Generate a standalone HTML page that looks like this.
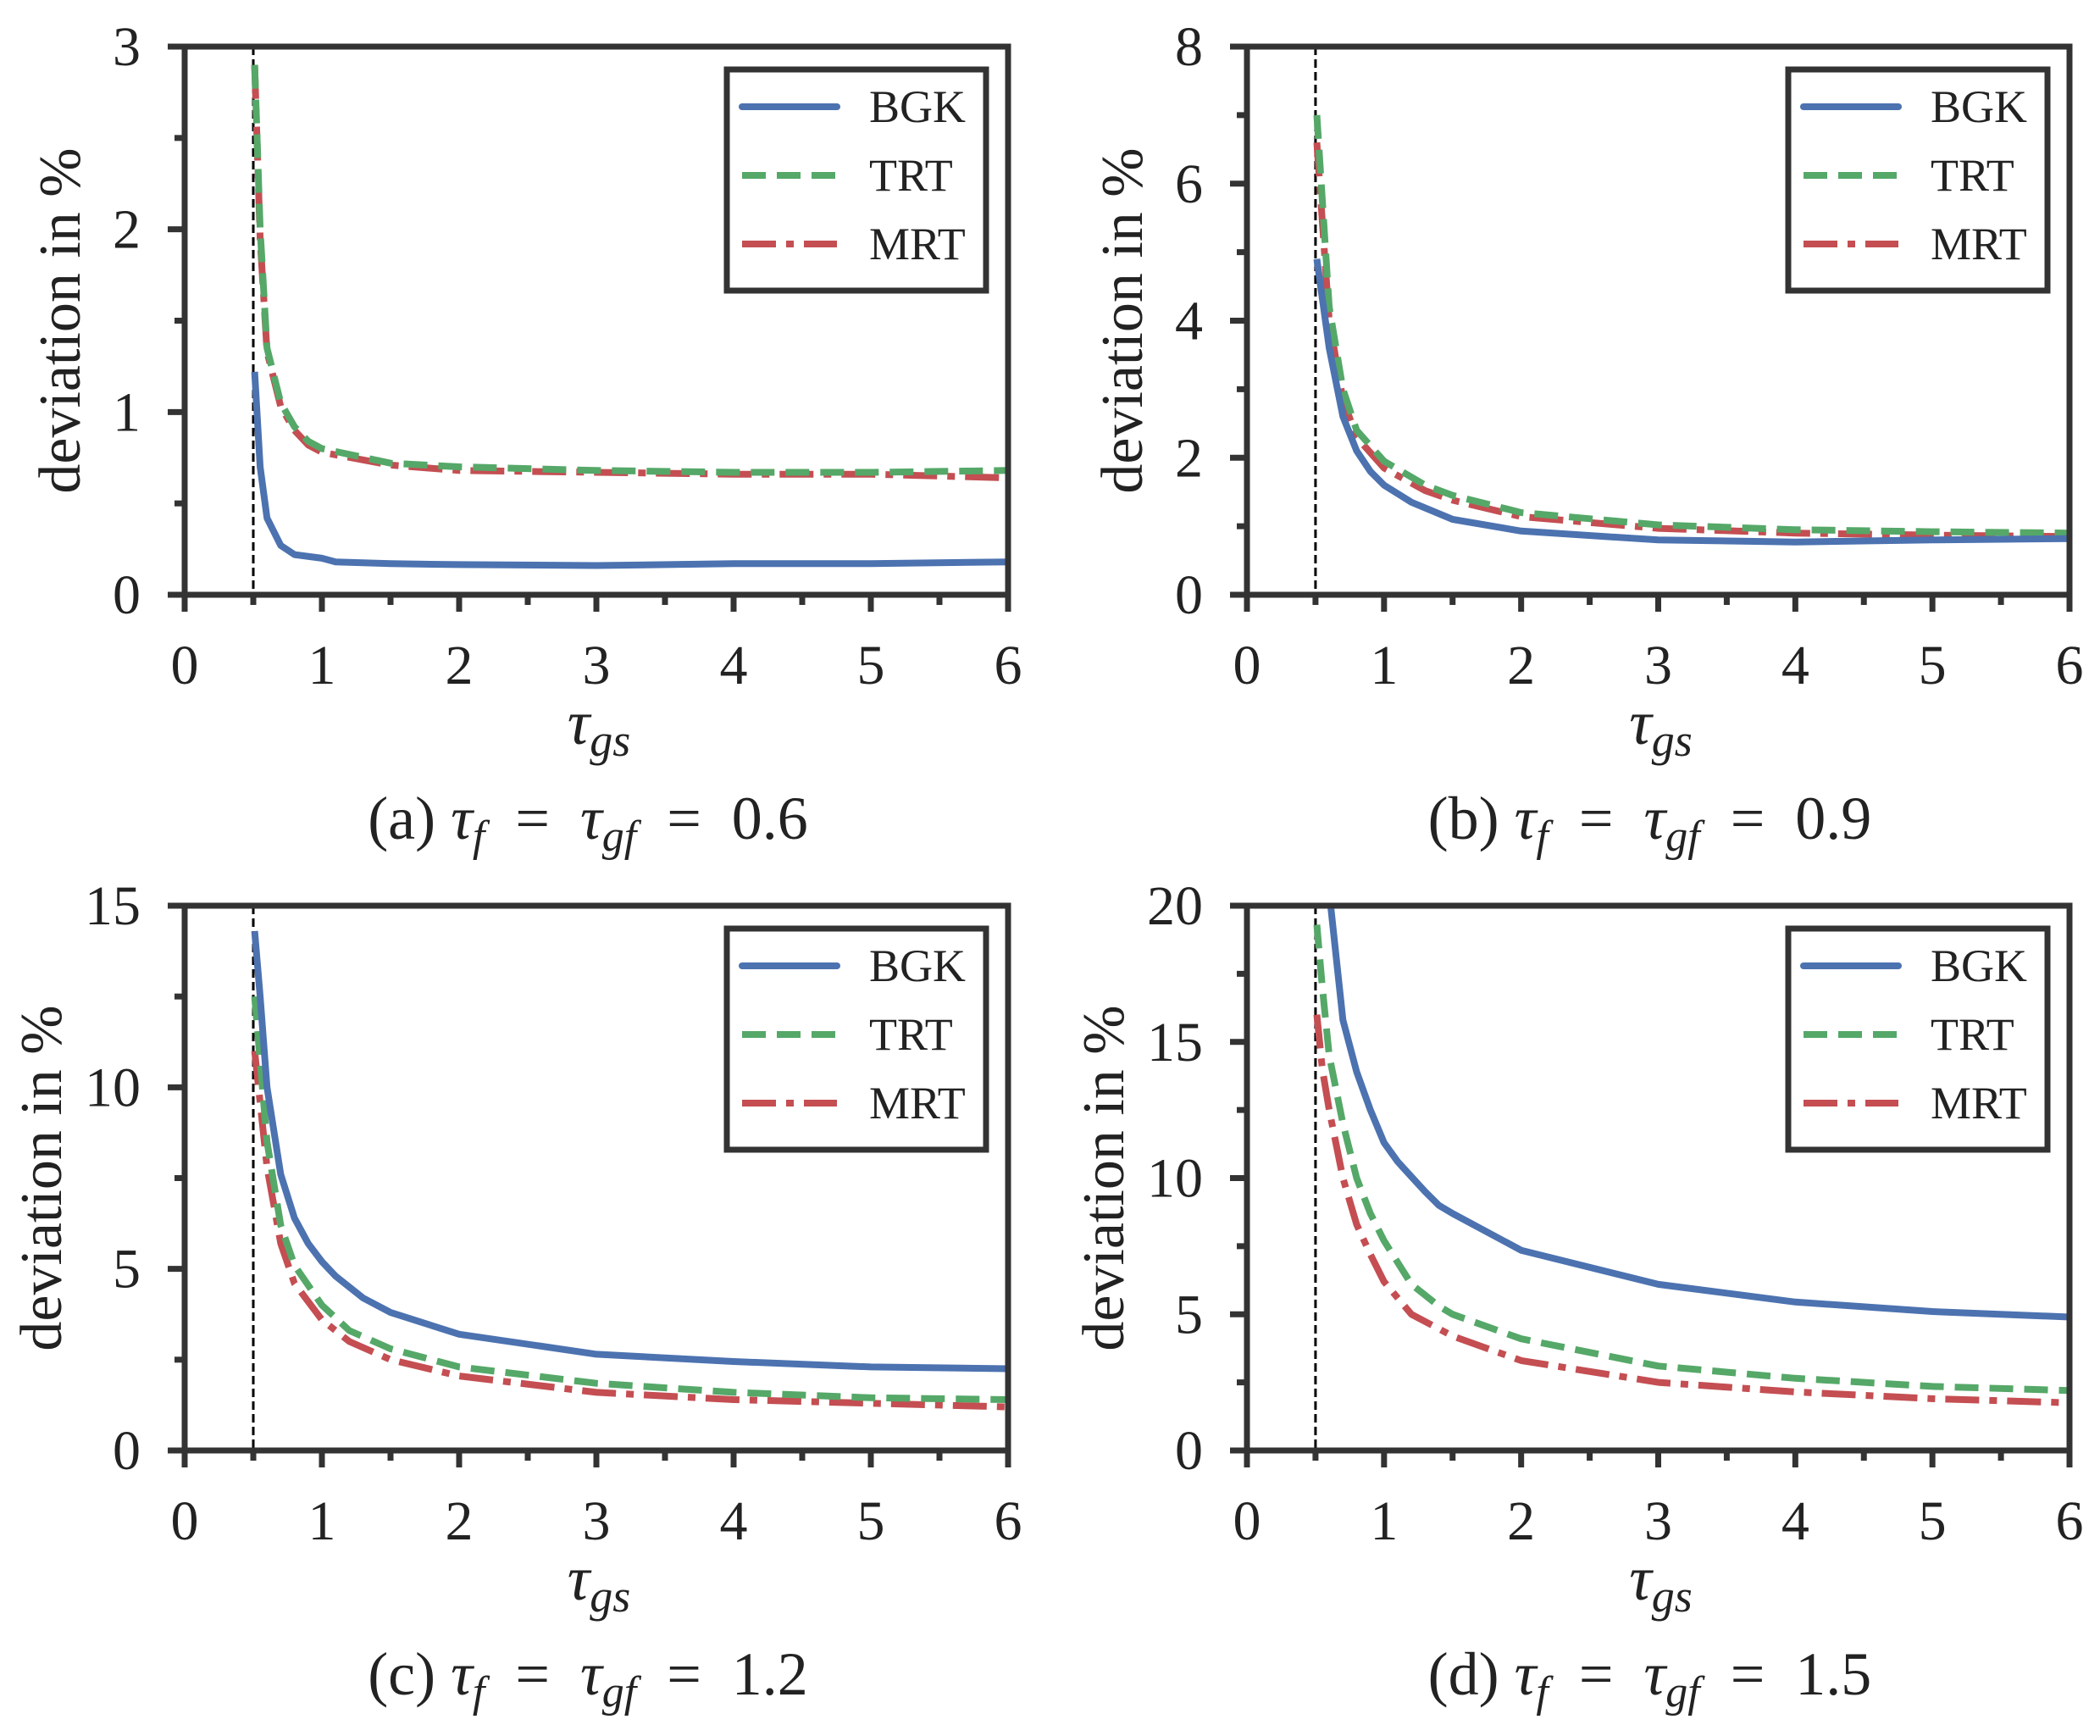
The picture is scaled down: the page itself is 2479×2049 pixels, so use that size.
<!DOCTYPE html>
<html><head><meta charset="utf-8"><style>
html,body{margin:0;padding:0;background:#fff;}
svg{display:block;font-family:"Liberation Serif",serif;}
</style></head><body>
<svg id="s" width="2479" height="2049" viewBox="0 0 2479 2049" xmlns="http://www.w3.org/2000/svg"></svg>
<script>
const S=document.getElementById('s');let h='';
const C={b:'#4c72b0',g:'#55a868',r:'#c44e52'};
const P=[
{x0:218,x1:1190,yt:55,yb:702,ym:3,maj:1,min:0.5,cap:'(a)',v:'0.6',
 d:{b:[[.51,1.22],[.55,.7],[.6,.42],[.7,.27],[.8,.22],[1,.2],[1.1,.18],[1.5,.17],[2,.165],[3,.16],[4,.17],[5,.17],[6,.18]],
 g:[[.51,2.9],[.55,2.0],[.6,1.35],[.7,1.05],[.8,.92],[.9,.84],[1,.8],[1.5,.72],[2,.7],[3,.68],[4,.67],[5,.67],[6,.68]],
 r:[[.51,2.9],[.55,1.95],[.6,1.33],[.7,1.03],[.8,.9],[.9,.82],[1,.78],[1.5,.71],[2,.68],[3,.67],[4,.66],[5,.66],[6,.64]]}},
{x0:1472,x1:2443,yt:55,yb:702,ym:8,maj:2,min:1,cap:'(b)',v:'0.9',
 d:{b:[[.51,4.9],[.6,3.6],[.7,2.6],[.8,2.1],[.9,1.8],[1,1.6],[1.2,1.35],[1.5,1.1],[2,.93],[3,.8],[4,.77],[5,.8],[6,.82]],
 g:[[.51,7.0],[.6,4.2],[.7,3.0],[.8,2.4],[1,1.95],[1.3,1.6],[1.5,1.45],[2,1.2],[3,1.02],[4,.95],[5,.92],[6,.9]],
 r:[[.51,6.6],[.6,4.0],[.7,2.85],[.8,2.3],[1,1.85],[1.3,1.52],[1.5,1.38],[2,1.14],[3,.97],[4,.9],[5,.87],[6,.85]]}},
{x0:218,x1:1190,yt:1069,yb:1712,ym:15,maj:5,min:2.5,cap:'(c)',v:'1.2',
 d:{b:[[.51,14.3],[.55,12.5],[.6,10],[.7,7.6],[.8,6.4],[.9,5.7],[1,5.2],[1.1,4.8],[1.3,4.2],[1.5,3.8],[2,3.2],[3,2.65],[4,2.45],[5,2.3],[6,2.25]],
 g:[[.51,12.5],[.6,8.5],[.7,6.2],[.8,5.1],[1,4.0],[1.2,3.3],[1.5,2.8],[2,2.3],[3,1.85],[4,1.6],[5,1.45],[6,1.4]],
 r:[[.51,11],[.6,7.8],[.7,5.7],[.8,4.6],[1,3.6],[1.2,3.0],[1.5,2.5],[2,2.05],[3,1.6],[4,1.4],[5,1.3],[6,1.2]]}},
{x0:1472,x1:2443,yt:1069,yb:1712,ym:20,maj:5,min:2.5,cap:'(d)',v:'1.5',
 d:{b:[[.57,22],[.6,20.5],[.7,15.8],[.8,13.9],[.9,12.5],[1,11.3],[1.1,10.6],[1.3,9.5],[1.4,9.0],[1.5,8.7],[2,7.35],[3,6.1],[4,5.45],[5,5.1],[6,4.9]],
 g:[[.51,19.3],[.55,17],[.6,14.5],[.7,12],[.8,10],[.9,8.7],[1,7.7],[1.2,6.1],[1.4,5.3],[1.5,5.0],[2,4.1],[3,3.1],[4,2.65],[5,2.35],[6,2.2]],
 r:[[.51,16],[.55,14],[.6,12.5],[.7,10],[.8,8.3],[.9,7.2],[1,6.2],[1.2,5.0],[1.5,4.2],[2,3.3],[3,2.5],[4,2.15],[5,1.9],[6,1.75]]}}
];
const fc='#333',LW=8;
const sty={b:'',g:'stroke-dasharray="28,13"',r:'stroke-dasharray="40,12,9,12"'};
P.forEach((p,i)=>{
 const X=v=>p.x0+(p.x1-p.x0)*v/6, Y=v=>p.yb-(p.yb-p.yt)*v/p.ym;
 h+=`<clipPath id="c${i}"><rect x="${p.x0}" y="${p.yt}" width="${p.x1-p.x0}" height="${p.yb-p.yt}"/></clipPath>`;
 h+=`<line x1="${X(.5)}" y1="${p.yt}" x2="${X(.5)}" y2="${p.yb}" stroke="#000" stroke-width="3" stroke-dasharray="10,5"/>`;
 ['r','g','b'].forEach(k=>{
  h+=`<polyline clip-path="url(#c${i})" fill="none" stroke="${C[k]}" stroke-width="${LW}" stroke-linejoin="round" ${sty[k]} points="${p.d[k].map(q=>X(q[0]).toFixed(1)+','+Y(q[1]).toFixed(1)).join(' ')}"/>`;
 });
 h+=`<rect x="${p.x0}" y="${p.yt}" width="${p.x1-p.x0}" height="${p.yb-p.yt}" fill="none" stroke="${fc}" stroke-width="7"/>`;
 for(let t=0;t<=12;t++){const v=t/2,maj=t%2==0;
  h+=`<line x1="${X(v)}" y1="${p.yb}" x2="${X(v)}" y2="${p.yb+(maj?20:12)}" stroke="${fc}" stroke-width="7"/>`;
  if(maj)h+=`<text x="${X(v)}" y="${p.yb+105}" font-size="66" text-anchor="middle" fill="#222">${v}</text>`;}
 for(let v=0;v<=p.ym+1e-9;v+=p.min){const maj=Math.abs(v/p.maj-Math.round(v/p.maj))<1e-6;
  h+=`<line x1="${p.x0}" y1="${Y(v)}" x2="${p.x0-(maj?20:12)}" y2="${Y(v)}" stroke="${fc}" stroke-width="7"/>`;
  if(maj)h+=`<text x="${p.x0-52}" y="${Y(v)+22}" font-size="66" text-anchor="end" fill="#222">${v}</text>`;}
 const yc=(p.yt+p.yb)/2, lx=p.ym>=10?p.x0-170:p.x0-148;
 h+=`<text transform="translate(${lx+24},${yc}) rotate(-90)" font-size="70" text-anchor="middle" fill="#222">deviation in %</text>`;
 const xc=(p.x0+p.x1)/2;
 h+=`<text x="${xc+3}" y="${p.yb+176}" font-size="74" text-anchor="middle" fill="#222"><tspan font-style="italic">τ</tspan><tspan font-style="italic" font-size="54" dy="14">gs</tspan></text>`;
 h+=`<text x="${xc-10}" y="${p.yb+288}" font-size="72" text-anchor="middle" fill="#222" xml:space="preserve">${p.cap} <tspan font-style="italic">τ</tspan><tspan font-style="italic" font-size="52" dy="14">f</tspan><tspan dy="-14">  =  </tspan><tspan font-style="italic">τ</tspan><tspan font-style="italic" font-size="52" dy="14">gf</tspan><tspan dy="-14">  =  ${p.v}</tspan></text>`;
 const lx0=p.x1-332, ly0=p.yt+27;
 h+=`<rect x="${lx0}" y="${ly0}" width="306" height="261" fill="#fff" stroke="${fc}" stroke-width="7"/>`;
 ['BGK','TRT','MRT'].forEach((n,j)=>{const k=['b','g','r'][j],yy=ly0+44+j*81;
  h+=`<line x1="${lx0+18}" y1="${yy}" x2="${lx0+130}" y2="${yy}" stroke="${C[k]}" stroke-width="${LW}" stroke-linecap="${k=='b'?'round':'butt'}" ${sty[k]}/>`;
  h+=`<text x="${lx0+168}" y="${yy+18}" font-size="54" fill="#222">${n}</text>`;});
});
S.innerHTML=h;
</script>
</body></html>
